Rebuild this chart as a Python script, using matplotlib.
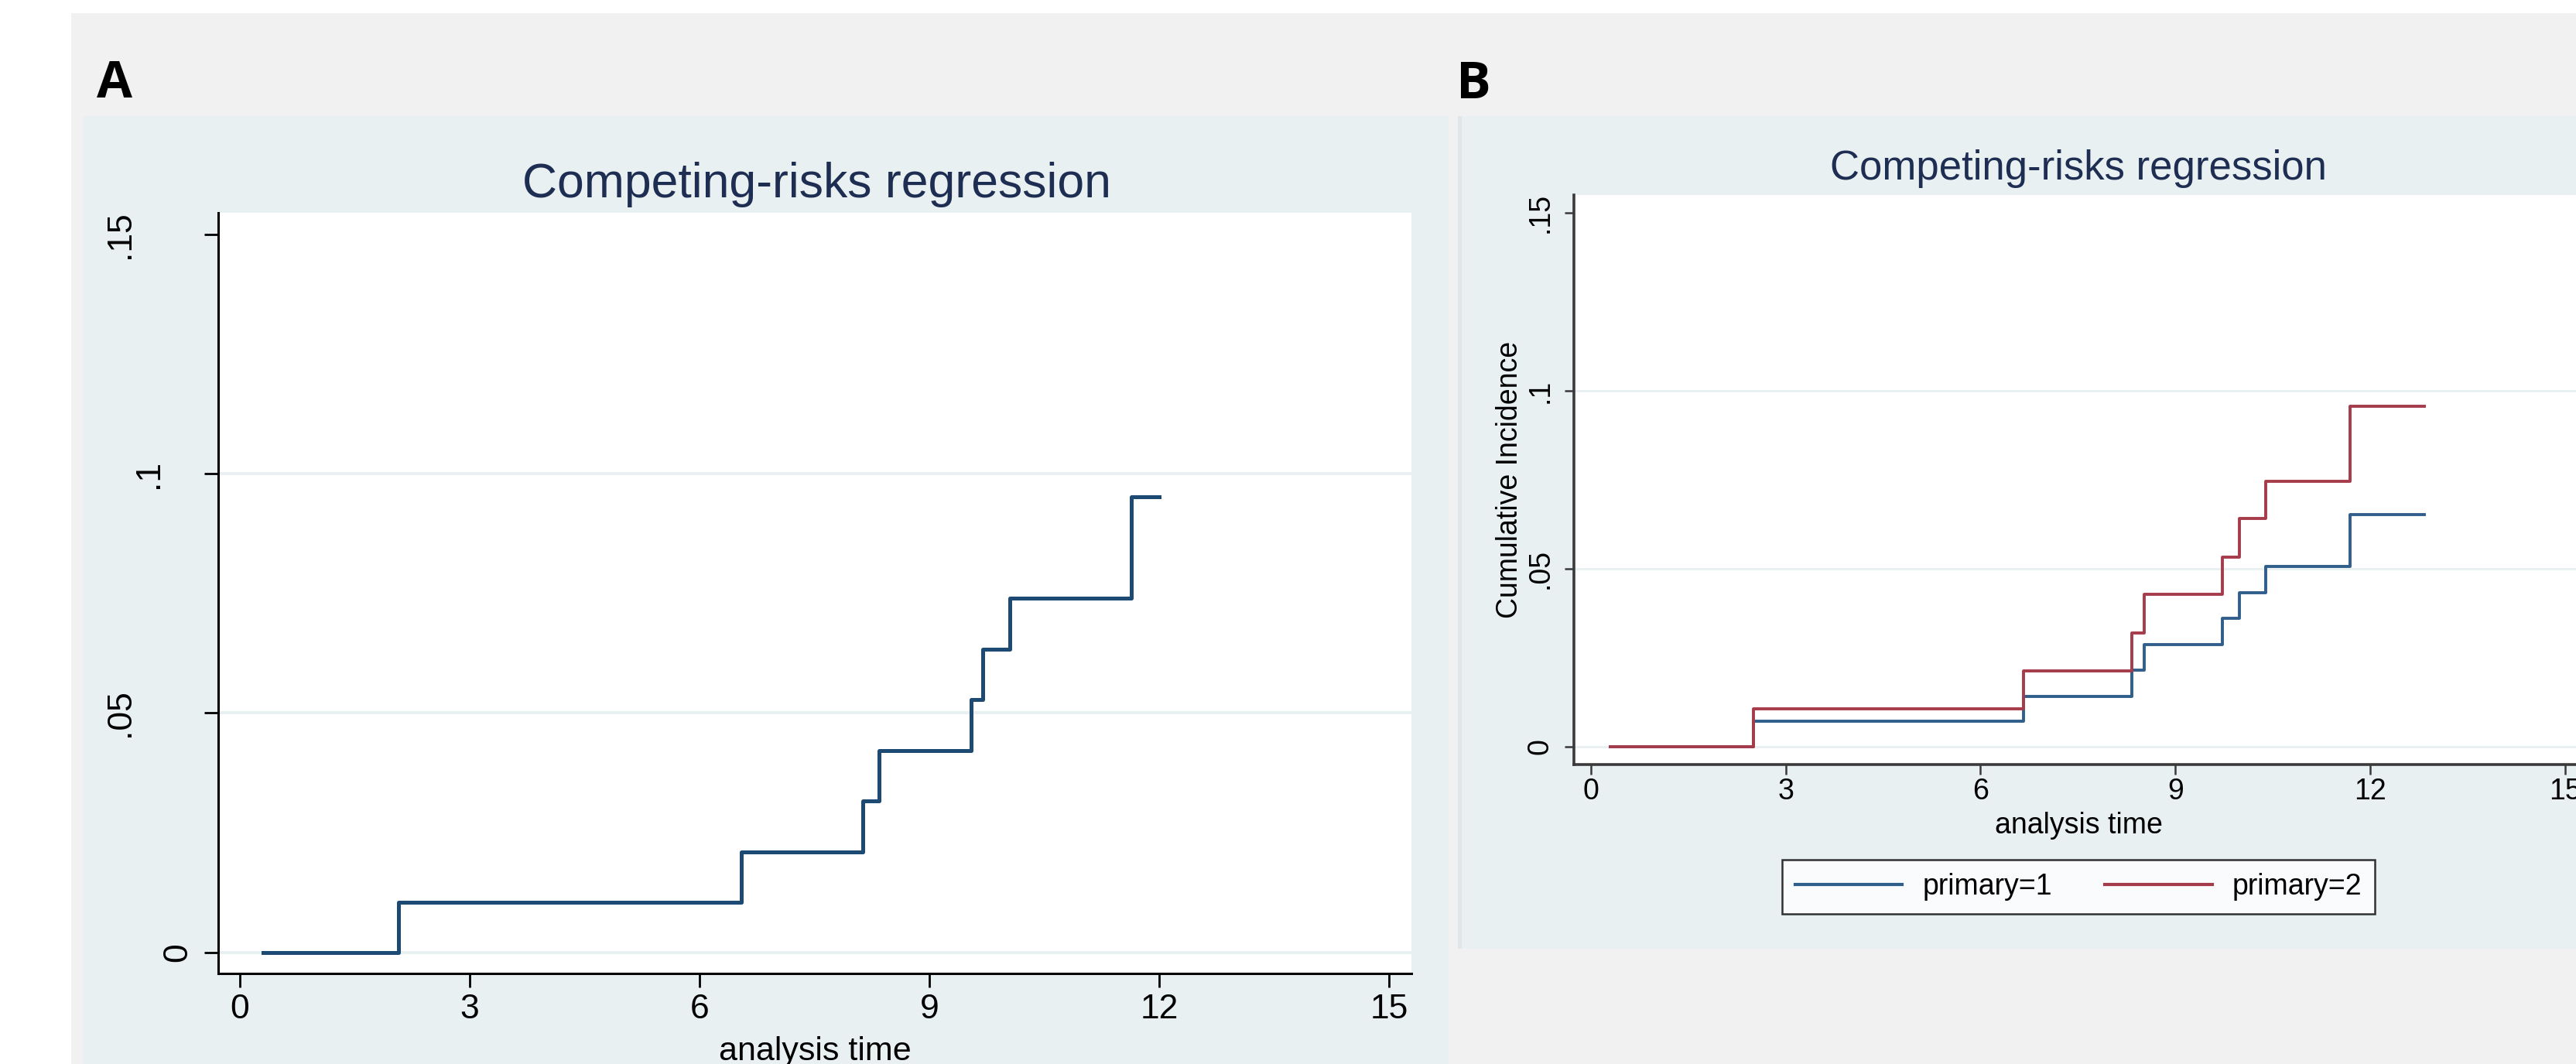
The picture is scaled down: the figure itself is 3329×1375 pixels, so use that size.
import matplotlib
matplotlib.use("Agg")
import matplotlib.pyplot as plt
from matplotlib.patches import Rectangle
from matplotlib.transforms import offset_copy

plt.rcParams["font.family"] = ["Liberation Sans", "DejaVu Sans"]

# ---- data ----
a_time = [0.30, 2.07, 6.54, 8.13, 8.34, 9.54, 9.70, 10.05, 11.63, 12.00]
a_cif = [0.0, 0.0105, 0.0210, 0.0317, 0.0422, 0.0528, 0.0634, 0.0740, 0.0952, 0.0952]

b_time = [0.30, 2.50, 6.66, 8.33, 8.52, 9.73, 9.99, 10.39, 11.69, 12.83]
b_primary1 = [0.0, 0.0072, 0.0141, 0.0215, 0.0287, 0.0360, 0.0433, 0.0506, 0.0652, 0.0652]
b_primary2 = [0.0, 0.0107, 0.0213, 0.0320, 0.0428, 0.0533, 0.0641, 0.0746, 0.0957, 0.0957]

x_ticks = [0, 3, 6, 9, 12, 15]
y_ticks = [0, 0.05, 0.10, 0.15]
y_tick_labels = ["0", ".05", ".1", ".15"]
series_labels = ["primary=1", "primary=2"]

TITLE = "Competing-risks regression"

# ---- styling ----
W, H, DPI = 3330, 1375, 100
PAGE = "#f1f1f1"
PANEL = "#e9f0f2"
GRID = "#e8f0f2"
TITLE_COLOR = "#1e2d52"
NAVY = "#1c4a72"
BLUE = "#2f5e8b"
RED = "#a63c4b"


def fx(px):
    return px / W


def fy(py):
    return 1 - py / H


def add_box(fig, x0, y0, x1, y1, color):
    fig.add_artist(Rectangle((fx(x0), fy(y1)), fx(x1) - fx(x0), fy(y0) - fy(y1),
                             transform=fig.transFigure, facecolor=color,
                             edgecolor="none", zorder=-10))


def axes_at(fig, x0, y0, x1, y1):
    return fig.add_axes([fx(x0), fy(y1), fx(x1) - fx(x0), fy(y0) - fy(y1)])


fig = plt.figure(figsize=(W / DPI, H / DPI), dpi=DPI, facecolor=PAGE)

# page and panel backgrounds
add_box(fig, 0, 0, W, 17, "white")
add_box(fig, 0, 0, 92, H, "white")
add_box(fig, 107, 150, 1872, H, PANEL)
add_box(fig, 1884, 150, W, 1226, PANEL)
add_box(fig, 1884, 150, 1889, 1226, "#e2e6e8")

# panel letters
fig.text(fx(125), fy(126), "A", fontsize=48, fontweight="bold",
         family=["Open Sans", "DejaVu Sans"], va="baseline")
fig.text(fx(1882), fy(127), "B", fontsize=48, fontweight="bold",
         family=["Open Sans", "DejaVu Sans"], va="baseline")

# ---------------- panel A ----------------
ax_a = axes_at(fig, 282, 275, 1824, 1258)
ax_a.set_facecolor("white")
for v in y_ticks[:-1]:
    ax_a.axhline(v, color=GRID, lw=2.8, zorder=0.5)
ax_a.step(a_time, a_cif, where="post", color=NAVY, lw=3.6, zorder=3)
ax_a.set_xlim(-0.283, 15.29)
ax_a.set_ylim(-0.0044, 0.1545)
for side in ["top", "right"]:
    ax_a.spines[side].set_visible(False)
for side in ["left", "bottom"]:
    ax_a.spines[side].set_linewidth(2.2)
    ax_a.spines[side].set_color("black")
ax_a.set_xticks(x_ticks)
ax_a.set_yticks(y_ticks)
ax_a.set_yticklabels([])
ax_a.tick_params(axis="both", length=13, width=2, color="black")
ax_a.tick_params(axis="x", labelsize=32, pad=6)
ax_a.set_xlabel("analysis time", fontsize=31, labelpad=10)

# Stata placed the rotated y labels staggered by label length
for v, lab in zip(y_ticks, y_tick_labels):
    shift = (15 + 37 * len(lab)) * 72 / DPI
    tr = offset_copy(ax_a.get_yaxis_transform(), fig=fig, x=-shift, y=0, units="points")
    ax_a.text(0, v, lab, transform=tr, rotation=90, ha="center", va="center",
              fontsize=32, clip_on=False)

fig.text(fx(1055), fy(255), TITLE, fontsize=45, color=TITLE_COLOR,
         ha="center", va="baseline")

# ---------------- panel B ----------------
ax_b = axes_at(fig, 2034, 252, 3339, 988)
ax_b.set_facecolor("white")
for v in y_ticks[:-1]:
    ax_b.axhline(v, color=GRID, lw=2.0, zorder=0.5)
ax_b.step(b_time, b_primary1, where="post", color=BLUE, lw=2.8, zorder=3,
          label=series_labels[0])
ax_b.step(b_time, b_primary2, where="post", color=RED, lw=2.8, zorder=3,
          label=series_labels[1])
ax_b.set_xlim(-0.262, 15.29)
ax_b.set_ylim(-0.005, 0.155)
for side in ["top", "right"]:
    ax_b.spines[side].set_visible(False)
for side in ["left", "bottom"]:
    ax_b.spines[side].set_linewidth(2.6)
    ax_b.spines[side].set_color("#3a3a3a")
ax_b.set_xticks(x_ticks)
ax_b.set_yticks(y_ticks)
ax_b.set_yticklabels(y_tick_labels, rotation=90, va="center")
ax_b.tick_params(axis="both", length=9, width=1.8, color="#3a3a3a", labelsize=27)
ax_b.tick_params(axis="x", pad=3)
ax_b.tick_params(axis="y", pad=9)
ax_b.set_xlabel("analysis time", fontsize=27, labelpad=6)
ax_b.set_ylabel("Cumulative Incidence", fontsize=27, labelpad=3)

fig.text(fx(2686), fy(232), TITLE, fontsize=38, color=TITLE_COLOR,
         ha="center", va="baseline")

leg = fig.legend(*ax_b.get_legend_handles_labels(), loc="center",
                 bbox_to_anchor=(fx(2686), fy(1146)), ncol=2, fontsize=27,
                 frameon=True, fancybox=False, handlelength=3.7,
                 handletextpad=0.7, columnspacing=1.8, borderpad=0.45)
leg.get_frame().set_edgecolor("black")
leg.get_frame().set_linewidth(1.8)
leg.get_frame().set_facecolor("white")
for line in leg.get_lines():
    line.set_linewidth(3.0)

fig.savefig("out.png", dpi=DPI, facecolor=fig.get_facecolor())
